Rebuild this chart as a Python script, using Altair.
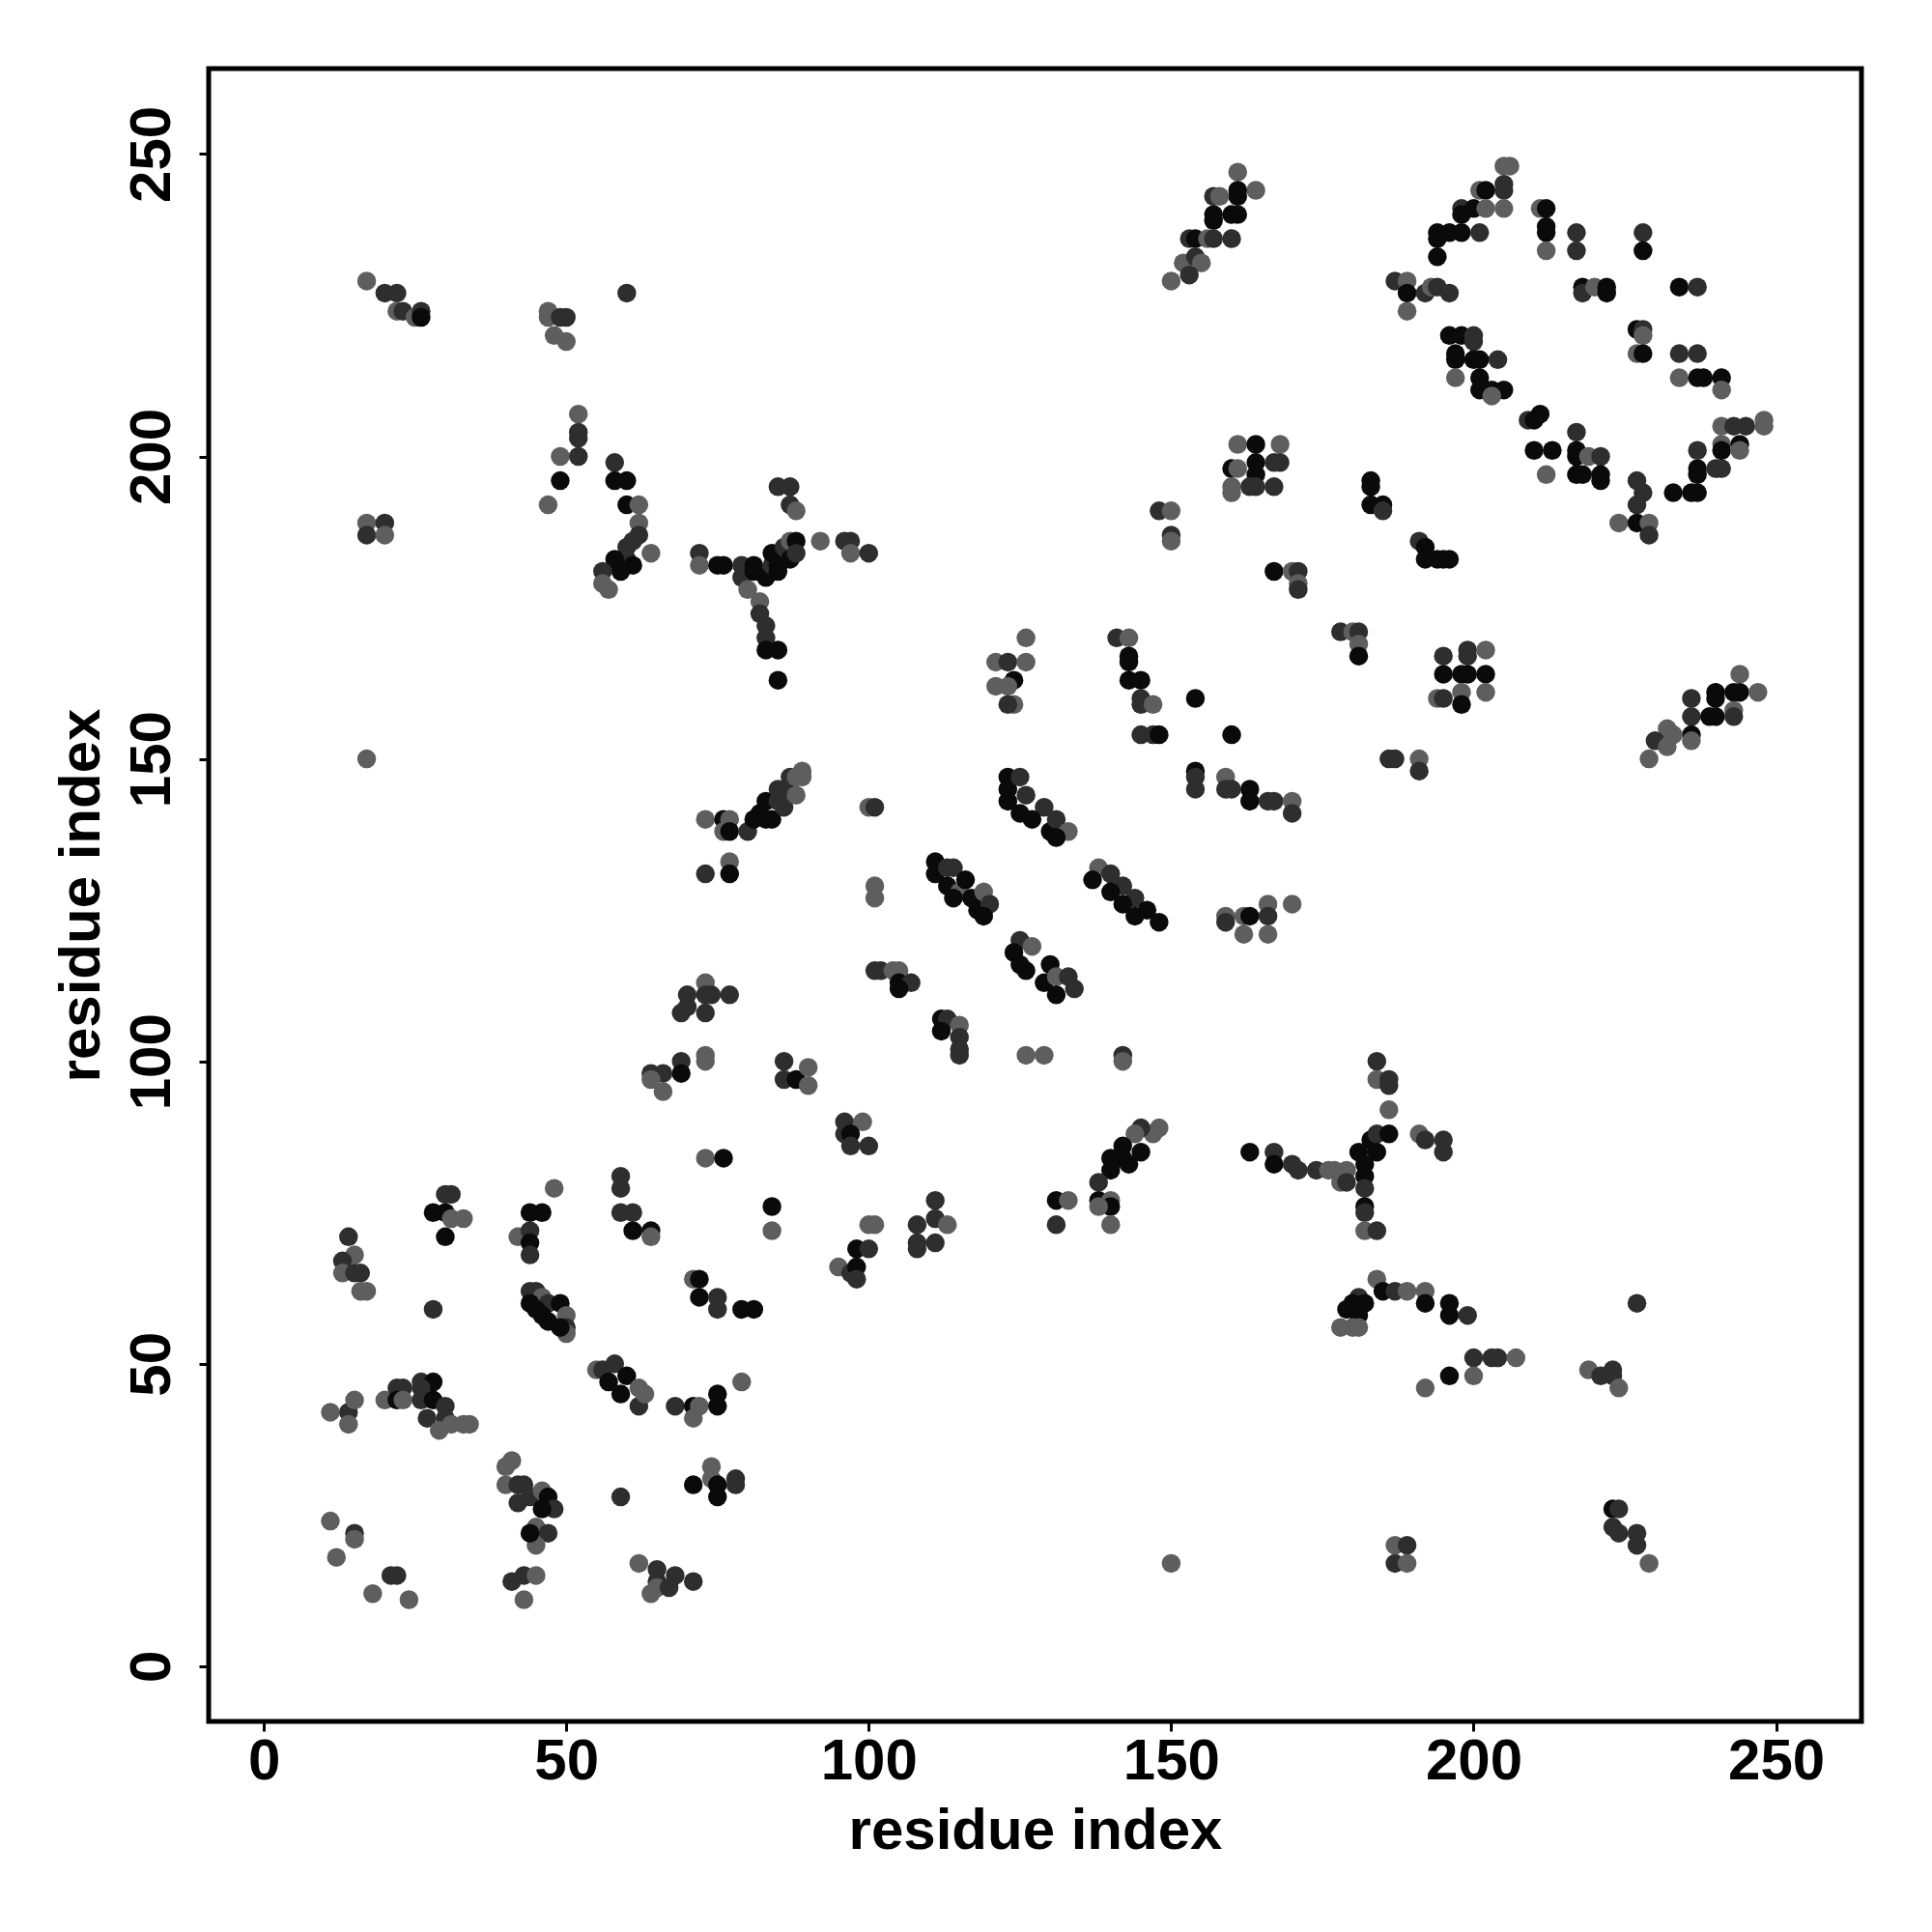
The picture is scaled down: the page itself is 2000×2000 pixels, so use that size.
import altair as alt
import pandas as pd

# Each entry: (residue i on x, residue j on y, shade level) ; shade 1 = grey, 2 = dark grey, 3 = black
top_left = [(17,229,1),(20,227,2),(22,227,2),(22,224,1),(23,224,2),(25,223,1),(26,224,2),(26,223,3),
    (60,227,2),(47,224,1),(47,223,1),(49,223,2),(50,223,2),(48,220,1),(50,219,1),
    (52,207,1),(52,204,2),(52,203,2),(49,200,1),(52,200,2),(49,196,3),(47,192,1),
    (58,199,2),(58,196,3),(60,196,3),(60,192,3),(62,192,1),(62,189,1),(62,187,2),(64,184,1),(60,185,2),
    (61,186,2),(60,183,2),(61,182,3),(58,183,3),(59,181,3),(56,181,2),(56,179,1),(57,178,1),
    (17,189,1),(20,189,2),(17,187,2),(20,187,1),(17,150,1)]

top_mid = [(85,195,2),(87,195,2),(87,192,2),(88,191,1),
    (72,184,2),(72,182,1),(75,182,3),(76,182,3),(79,182,2),(79,180,2),(80,178,1),(81,182,3),(81,181,3),
    (82,176,1),(82,174,2),(83,172,2),(83,170,2),(83,168,3),(85,168,3),(85,163,3),(83,180,3),(84,182,2),
    (84,184,3),(85,182,3),(85,181,3),(86,185,2),(87,186,1),(88,186,3),(87,183,3),(88,184,2),
    (92,186,1),(96,186,2),(97,186,2),(97,184,1),(100,184,2),
    (126,170,1),(121,166,1),(123,166,2),(126,166,1),(124,163,3),(121,162,1),(123,162,1),(124,159,1),(123,159,2)]

centre_upper = [(73,140,1),(76,140,3),(77,140,1),(76,138,1),(77,138,3),(80,138,2),(81,140,3),(82,141,3),
    (83,143,3),(83,140,3),(84,140,3),(85,143,2),(85,145,2),(86,142,2),(87,145,2),(87,147,2),(88,147,1),
    (88,144,1),(89,148,1),(89,147,1),
    (73,131,2),(77,133,1),(77,131,3),(100,142,1),(101,142,2),(101,129,1),(101,127,1),
    (111,133,3),(111,131,3),(113,132,2),(114,132,2),(113,129,3),(115,128,1),(116,130,3),(114,127,3),
    (117,127,3),(119,128,1),(118,125,3),(120,126,2),(119,124,3),
    (123,147,3),(123,145,3),(125,147,2),(123,143,3),(126,144,2),(125,141,3),(129,142,2),(127,140,3),
    (130,138,3),(131,140,2),(133,138,1),(131,137,3),
    (101,115,2),(102,115,2),(104,115,1),(105,115,1),(105,113,3),(107,113,2),(105,112,3),
    (73,113,1),(70,111,2),(74,111,2),(73,111,2),(77,111,2),(69,108,2),(70,109,2),(73,108,2),
    (73,101,1),(73,100,1),(69,100,2),(69,98,3),(66,98,2),(64,98,2),(66,95,1),(64,97,1),
    (86,100,2),(86,97,2),(88,97,3),(90,99,1),(90,96,1),(73,84,1),(76,84,3)]

top_right = [(161,247,1),(164,244,1),(161,244,3),(161,243,3),(157,243,2),(158,243,1),(157,240,3),(157,239,3),
    (160,240,3),(161,240,3),(153,236,2),(154,236,3),(156,236,1),(157,236,2),(160,236,2),(152,232,1),
    (154,233,2),(155,232,1),(153,230,2),(150,229,1),
    (187,229,2),(189,229,1),(189,227,3),(189,224,1),(192,227,2),(193,228,1),
    (161,202,1),(164,202,3),(168,202,1),(160,198,3),(161,198,1),(164,199,3),(164,197,3),(167,199,2),
    (168,199,2),(160,195,1),(160,194,1),(163,195,2),(164,195,2),(167,195,2),
    (148,191,2),(150,191,1),(150,187,2),(150,186,1),
    (183,196,3),(183,195,3),(183,192,3),(185,192,3),(185,191,2),
    (167,181,3),(170,181,1),(171,181,2),(171,179,1),(171,178,2),
    (141,170,2),(143,170,1),(143,167,3),(143,166,3),(143,163,3),(145,163,3),(145,160,2),(145,159,2),
    (147,159,1),(145,154,2),(147,154,2),(148,154,3)]

diamond = [(205,248,1),(206,248,1),(205,245,2),(205,244,2),(201,244,1),(202,244,3),(198,241,2),(198,240,3),
    (200,241,3),(202,241,1),(205,241,1),(194,237,3),(194,236,3),(196,237,3),(198,237,3),(201,237,2),
    (194,233,3),(194,228,2),(196,227,2),
    (211,241,1),(212,241,3),(212,238,3),(212,237,3),(212,234,1),(217,237,2),(217,234,2),(228,237,2),(228,234,3),
    (218,228,3),(218,227,2),(220,228,1),(222,228,3),(222,227,3),(234,228,3),(237,228,2),
    (196,220,3),(198,220,3),(200,220,2),(200,219,2),(197,217,3),(197,216,3),(200,216,3),(201,216,3),
    (204,216,2),(197,213,1),(201,213,3),(201,211,3),(203,211,3),(205,211,3),(203,210,1),
    (227,221,3),(228,221,2),(228,220,1),(227,217,1),(228,217,3),(234,217,2),(237,217,2),(234,213,1),
    (237,213,3),(238,213,3),(241,213,3),(241,211,1),
    (211,207,3),(209,206,2),(210,206,3),(217,204,2),(210,201,3),(213,201,3),(217,201,3),(217,200,3),
    (219,200,1),(221,200,2),(212,197,1),(217,197,3),(218,197,3),(221,197,3),(221,196,3),
    (227,196,2),(228,194,2),(227,192,2),(224,189,1),(227,189,3),(229,189,1),(229,187,2),
    (233,194,3),(236,194,3),(237,194,3),(237,197,3),(237,198,3),(237,201,2),(240,198,2),(241,198,2),
    (241,202,1),(241,201,3),(244,202,3),(244,201,1),(241,205,1),(243,205,2),(245,205,2),(248,206,1),(248,205,1),
    (191,186,2),(192,185,3),(192,183,3),(194,183,3),(195,183,3),(196,183,3)]

centre_lower = [(154,160,3),(160,154,3),(154,148,3),(154,147,2),(154,145,2),(159,147,1),(159,145,2),(160,145,2),
    (163,145,3),(163,143,3),(166,143,2),(167,143,2),(170,143,1),(170,141,2),
    (178,171,2),(180,171,1),(181,171,2),(181,169,1),(181,167,3),
    (186,150,2),(187,150,2),(191,150,1),(191,148,2),
    (138,132,1),(137,130,3),(140,131,2),(142,129,2),(140,128,3),(144,127,2),(142,126,3),(146,125,3),
    (144,124,3),(148,123,3),
    (159,124,1),(162,124,1),(163,124,3),(166,126,1),(166,124,2),(170,126,1),(162,121,1),(166,121,1),(159,123,2),
    (125,120,2),(124,118,3),(127,119,1),(125,116,3),(126,115,3),(130,116,3),(129,113,3),(131,114,1),
    (133,114,2),(134,112,2),(131,111,3),
    (126,101,1),(129,101,1),(142,101,2),(142,100,1),
    (184,100,2),(184,97,1),(186,97,2),(186,96,2),(186,92,1),
    (112,107,3),(113,107,2),(112,105,3),(115,106,1),(115,104,2),(115,102,2),(115,101,2),
    (96,90,2),(99,90,1),(96,88,2),(97,88,3),(97,86,2),(100,86,2)]

right_mid = [(195,167,2),(199,168,2),(202,168,1),(199,167,2),(195,164,3),(198,164,3),(199,164,3),(202,164,3),
    (194,160,1),(195,160,2),(198,161,1),(198,159,3),(202,161,1),
    (244,164,1),(240,161,3),(240,160,3),(243,161,3),(244,161,3),(247,161,1),(236,160,2),(236,157,2),
    (239,157,3),(240,157,3),(243,158,1),(243,157,2),(236,154,3),(236,153,1),(233,154,1),(232,155,1),
    (230,153,2),(232,152,1),(229,150,1)]

bottom_left = [(59,81,2),(59,79,2),(59,75,2),(61,75,2),(61,72,3),(64,72,3),(64,71,1),
    (30,78,2),(31,78,2),(28,75,3),(30,75,3),(31,74,1),(33,74,1),(30,71,3),
    (48,79,1),(44,75,3),(46,75,3),(42,71,1),(44,72,2),(44,70,3),(44,68,2),(28,59,2),
    (14,71,2),(15,68,1),(13,67,2),(13,65,1),(15,65,2),(16,65,2),(16,62,1),(17,62,1),
    (44,62,2),(45,62,2),(46,61,1),(44,60,3),(47,60,2),(49,60,3),(45,59,3),(47,57,3),(50,58,1),
    (50,56,2),(50,55,1),(49,56,3),(46,58,3),
    (11,42,1),(14,42,2),(15,44,1),(14,40,1),(20,44,1),(22,46,2),(23,46,2),(22,44,3),(23,44,1),
    (26,47,2),(28,47,3),(26,46,2),(26,44,2),(28,44,3),(27,41,2),(30,43,2),(30,41,2),(29,39,1),
    (31,40,1),(33,40,1),(34,40,1),
    (11,24,1),(15,22,2),(15,21,1),(12,18,1),(18,12,1),(21,15,2),(22,15,2),(24,11,1),
    (41,34,1),(40,33,1),(40,30,1),(42,30,2),(43,30,2),(44,28,2),(42,27,2),(46,29,1),(47,28,3),
    (48,26,2),(46,26,3),(45,23,1),(47,22,2),(45,20,1),(44,22,3),(41,14,2),(43,11,1),(43,15,2),(45,15,1),
    (59,28,2),(62,17,1),(65,14,2),(64,12,1),
    (55,49,1),(56,49,2),(58,50,2),(60,48,3),(57,47,3),(59,45,3),(62,46,1),(62,43,2),(63,45,1)]

bottom_mid = [(84,76,3),(84,72,1),(71,64,1),(72,64,3),(72,61,3),(75,61,2),(75,59,2),(79,59,3),(81,59,3),
    (95,66,1),(97,65,2),(98,66,3),(98,64,2),(98,69,3),(100,69,2),(100,73,1),(101,73,1),
    (108,73,2),(111,77,2),(111,74,2),(113,73,1),(108,70,2),(108,69,2),(111,70,2),
    (68,43,2),(71,43,3),(72,43,1),(71,41,1),(75,45,3),(75,43,3),(79,47,1),
    (71,30,3),(74,33,1),(74,31,1),(75,30,3),(75,28,3),(78,31,2),(78,30,2),
    (65,16,2),(65,13,1),(67,13,2),(68,15,2),(71,14,2)]

bottom_right = [(148,89,1),(147,88,1),(145,89,2),(144,88,1),(145,85,3),(142,86,3),(142,84,3),(140,84,3),
    (140,82,3),(143,83,3),(138,80,2),
    (131,77,3),(133,77,1),(131,73,2),(138,77,3),(140,77,1),(140,76,3),(138,76,1),(140,73,1),
    (163,85,3),(167,85,2),(167,83,3),(170,83,2),(171,82,2),(174,82,2),(176,82,1),(177,82,1),(179,82,1),
    (178,80,1),(179,80,2),(181,85,3),(183,87,3),(184,88,2),(186,88,3),(184,85,3),(182,83,3),(182,81,3),
    (182,79,2),(182,76,3),(182,75,2),(182,72,1),(184,72,2),
    (191,88,1),(192,87,2),(195,87,2),(195,85,2),
    (184,64,1),(181,61,2),(185,62,3),(187,62,2),(189,62,1),(192,62,1),(192,60,3),(182,60,3),(180,60,3),
    (179,59,3),(181,58,3),(180,56,1),(178,56,1),(181,56,1),
    (196,60,3),(196,58,3),(199,58,2),(227,60,2),
    (200,51,2),(203,51,2),(204,51,2),(207,51,1),(196,48,3),(200,48,1),(192,46,1),
    (219,49,1),(221,48,2),(223,49,2),(223,48,2),(224,46,1),
    (223,26,3),(224,26,2),(223,23,2),(224,22,2),(227,22,2),(227,20,2),(229,17,1),
    (150,17,1),(187,20,1),(189,20,2),(187,17,2),(189,17,1)]

tick_values = [0, 50, 100, 150, 200, 250]
axis_range = [-9.12, 264.12]
shade_levels = [1, 2, 3]
shade_colors = ["#5e5e5e", "#2e2e2e", "#0a0a0a"]

regions = [top_left, top_mid, centre_upper, top_right, diamond, centre_lower,
           right_mid, bottom_left, bottom_mid, bottom_right]
rows = [{"i": a, "j": b, "s": c} for reg in regions for (a, b, c) in reg]
df = pd.DataFrame(rows)
df["order"] = range(len(df))

FONT = "Liberation Sans"
FS = 60

x_axis = alt.Axis(values=tick_values, grid=False, domain=False, ticks=True, tickSize=10, tickWidth=3,
                  tickColor="black", labelFont=FONT, labelFontSize=FS, labelFontWeight="bold",
                  labelColor="black", labelPadding=2, labelBaseline="top",
                  titleFont=FONT, titleFontSize=FS, titleFontWeight="bold", titleColor="black",
                  titleBaseline="alphabetic", titleY=131, titleX=855.5, titleAlign="center")
y_axis = alt.Axis(values=tick_values, grid=False, domain=False, ticks=True, tickSize=10, tickWidth=3,
                  tickColor="black", labelFont=FONT, labelFontSize=FS, labelFontWeight="bold",
                  labelColor="black", labelAngle=270, labelAlign="center", labelBaseline="alphabetic",
                  labelPadding=31,
                  titleFont=FONT, titleFontSize=FS, titleFontWeight="bold", titleColor="black",
                  titleAngle=270, titleAlign="center", titleBaseline="alphabetic",
                  titleX=-114, titleY=855.5)

chart = alt.Chart(df).mark_circle(size=380, opacity=1).encode(
    x=alt.X("i:Q", scale=alt.Scale(domain=axis_range, nice=False, zero=False),
            axis=x_axis, title="residue index"),
    y=alt.Y("j:Q", scale=alt.Scale(domain=axis_range, nice=False, zero=False),
            axis=y_axis, title="residue index"),
    color=alt.Color("s:O", scale=alt.Scale(domain=shade_levels, range=shade_colors), legend=None),
    order=alt.Order("order:Q"),
).properties(
    width=1711, height=1711,
    autosize=alt.AutoSizeParams(type="none"),
    padding={"left": 208, "top": 63, "right": 65, "bottom": 215},
    background="white",
).configure_view(stroke="black", strokeWidth=5)

chart.save("out.html", embed_options={"renderer": "svg", "actions": False})
